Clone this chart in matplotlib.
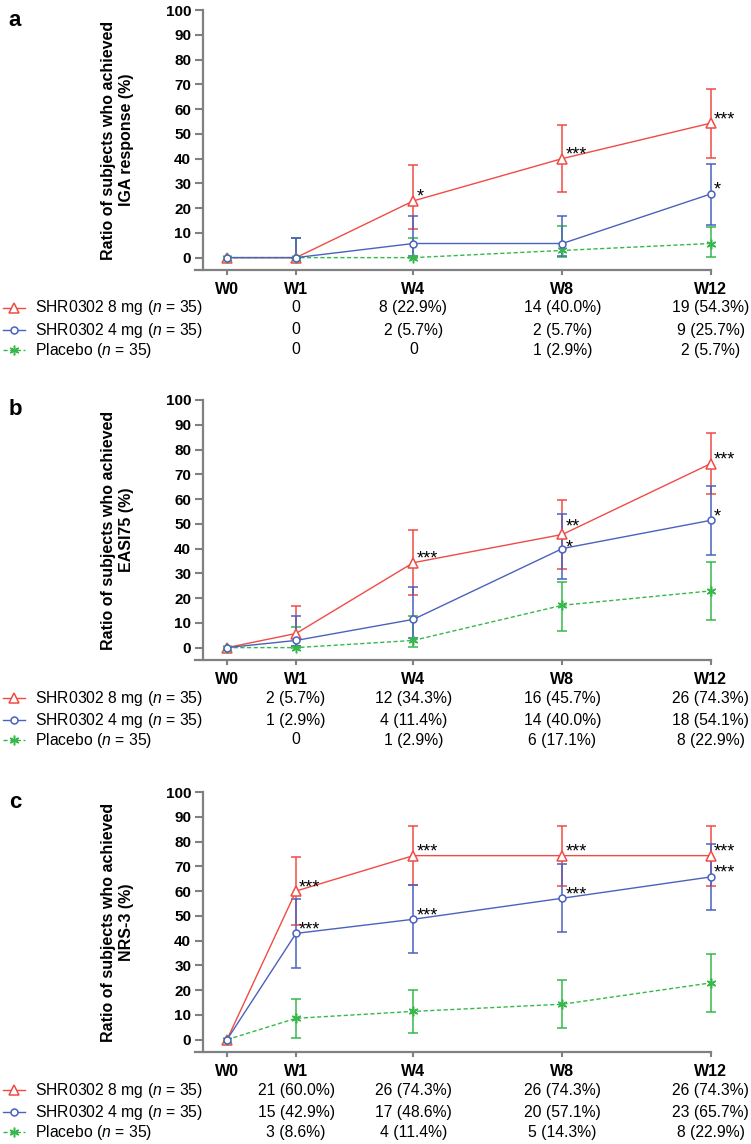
import numpy as np
import matplotlib
matplotlib.use('Agg')
import matplotlib.pyplot as plt
from matplotlib.lines import Line2D
import matplotlib.transforms as mtransforms

plt.rcParams['font.family'] = ['Liberation Sans', 'DejaVu Sans']
plt.rcParams['mathtext.fontset'] = 'custom'
plt.rcParams['mathtext.rm'] = 'Liberation Sans'
plt.rcParams['mathtext.it'] = 'Liberation Sans:italic'

nan = np.nan
weeks = ['W0', 'W1', 'W4', 'W8', 'W12']
group_labels = ['SHR0302 8 mg ($\\mathit{n}$ = 35)',
                'SHR0302 4 mg ($\\mathit{n}$ = 35)',
                'Placebo ($\\mathit{n}$ = 35)']

# panel a - IGA response
iga_8mg = [0, 0, 22.9, 40.0, 54.3]
iga_8mg_lo = [nan, 0, 11.7, 26.3, 40.3]
iga_8mg_hi = [nan, 8.1, 37.4, 53.4, 68.0]
iga_4mg = [0, 0, 5.7, 5.7, 25.7]
iga_4mg_lo = [nan, 0, 0.7, 0.7, 13.3]
iga_4mg_hi = [nan, 8.1, 16.7, 16.7, 37.8]
iga_pbo = [0, 0, 0, 2.9, 5.7]
iga_pbo_lo = [nan, 0, 0, 0.1, 0.1]
iga_pbo_hi = [nan, 8.1, 8.1, 12.6, 12.2]
iga_table = [['0', '8 (22.9%)', '14 (40.0%)', '19 (54.3%)'],
             ['0', '2 (5.7%)', '2 (5.7%)', '9 (25.7%)'],
             ['0', '0', '1 (2.9%)', '2 (5.7%)']]
iga_stars = [(2, 0, '*'), (3, 0, '***'), (4, 0, '***'), (4, 1, '*')]

# panel b - EASI75
eas_8mg = [0, 5.7, 34.3, 45.7, 74.3]
eas_8mg_lo = [nan, 0.8, 21.2, 31.9, 62.1]
eas_8mg_hi = [nan, 17.0, 47.4, 59.7, 86.7]
eas_4mg = [0, 2.9, 11.4, 40.0, 51.4]
eas_4mg_lo = [nan, 0.5, 3.8, 27.6, 37.6]
eas_4mg_hi = [nan, 12.9, 24.4, 53.8, 65.4]
eas_pbo = [0, 0, 2.9, 17.1, 22.9]
eas_pbo_lo = [nan, 0, 0.4, 6.9, 11.3]
eas_pbo_hi = [nan, 8.2, 12.8, 26.5, 34.5]
eas_table = [['2 (5.7%)', '12 (34.3%)', '16 (45.7%)', '26 (74.3%)'],
             ['1 (2.9%)', '4 (11.4%)', '14 (40.0%)', '18 (54.1%)'],
             ['0', '1 (2.9%)', '6 (17.1%)', '8 (22.9%)']]
eas_stars = [(2, 0, '***'), (3, 0, '**'), (3, 1, '*'), (4, 0, '***'), (4, 1, '*')]

# panel c - NRS-3
nrs_8mg = [0, 60.0, 74.3, 74.3, 74.3]
nrs_8mg_lo = [nan, 46.4, 62.3, 62.2, 62.2]
nrs_8mg_hi = [nan, 73.6, 86.4, 86.4, 86.4]
nrs_4mg = [0, 42.9, 48.6, 57.1, 65.7]
nrs_4mg_lo = [nan, 29.1, 34.8, 43.3, 52.5]
nrs_4mg_hi = [nan, 56.7, 62.3, 70.9, 78.8]
nrs_pbo = [0, 8.6, 11.4, 14.3, 22.9]
nrs_pbo_lo = [nan, 0.8, 2.6, 4.6, 11.2]
nrs_pbo_hi = [nan, 16.3, 20.2, 24.0, 34.5]
nrs_table = [['21 (60.0%)', '26 (74.3%)', '26 (74.3%)', '26 (74.3%)'],
             ['15 (42.9%)', '17 (48.6%)', '20 (57.1%)', '23 (65.7%)'],
             ['3 (8.6%)', '4 (11.4%)', '5 (14.3%)', '8 (22.9%)']]
nrs_stars = [(1, 0, '***'), (1, 1, '***'), (2, 0, '***'), (2, 1, '***'),
             (3, 0, '***'), (3, 1, '***'), (4, 0, '***'), (4, 1, '***')]

panels = [
    ('a', 'Ratio of subjects who achieved\nIGA response (%)',
     [(iga_8mg, iga_8mg_lo, iga_8mg_hi), (iga_4mg, iga_4mg_lo, iga_4mg_hi),
      (iga_pbo, iga_pbo_lo, iga_pbo_hi)], iga_table, iga_stars),
    ('b', 'Ratio of subjects who achieved\nEASI75 (%)',
     [(eas_8mg, eas_8mg_lo, eas_8mg_hi), (eas_4mg, eas_4mg_lo, eas_4mg_hi),
      (eas_pbo, eas_pbo_lo, eas_pbo_hi)], eas_table, eas_stars),
    ('c', 'Ratio of subjects who achieved\nNRS-3 (%)',
     [(nrs_8mg, nrs_8mg_lo, nrs_8mg_hi), (nrs_4mg, nrs_4mg_lo, nrs_4mg_hi),
      (nrs_pbo, nrs_pbo_lo, nrs_pbo_hi)], nrs_table, nrs_stars),
]

# layout (not data)
x_pos = np.array([0, 1, 2.7, 4.86, 7.01])
colors = ['#F04B45', '#4A62BE', '#36B84A']
markers = ['^', 'o', (6, 2, 0)]
msizes = [6.5, 5, 7]
lstyles = ['-', '-', (0, (3, 1.8))]
draw_order = [0, 2, 1]
gray = '#808080'
W, H = 751, 1144
offsets = [0, 390, 782]
# small nudges (pixels) so the two stars at EASI75 W8 do not collide
star_nudge = {('b', 3, 0): 4, ('b', 3, 1): -3}

fig = plt.figure(figsize=(W / 100, H / 100), dpi=100)


def fx(px):
    return px / W


def fy(py):
    return 1 - py / H


for (letter, ylabel, series, table, stars), off in zip(panels, offsets):
    ax = fig.add_axes([fx(195), fy(270 + off), fx(745) - fx(195), (260) / H])
    ax.set_xlim(-0.464, -0.464 + 550 / 69)
    ax.set_ylim(-5, 100)
    for g in draw_order:
        v, lo, hi = (np.array(a, dtype=float) for a in series[g])
        yerr = np.vstack([v - lo, hi - v])
        ax.errorbar(x_pos, v, yerr=yerr, color=colors[g], lw=1.0,
                    ls=lstyles[g], marker=markers[g], ms=msizes[g],
                    mfc='white' if g < 2 else colors[g], mec=colors[g],
                    mew=1.1, capsize=3.8, capthick=1.1, elinewidth=1.1,
                    clip_on=False, zorder=3)
    for wi, g, s in stars:
        dy = star_nudge.get((letter, wi, g), 0)
        ax.annotate(s, (x_pos[wi], series[g][0][wi]), xytext=(3, -1 + dy),
                    textcoords='offset pixels', ha='left', va='baseline',
                    fontsize=13, zorder=5)

    for side in ['top', 'right']:
        ax.spines[side].set_visible(False)
    ax.spines['left'].set_position(('data', -0.348))
    ax.spines['left'].set_bounds(-5, 100)
    ax.spines['bottom'].set_bounds(-0.464, x_pos[-1])
    for side in ['left', 'bottom']:
        ax.spines[side].set_color(gray)
        ax.spines[side].set_linewidth(1.6)
    ax.set_yticks(range(0, 101, 10))
    ax.set_xticks(x_pos)
    ax.set_xticklabels(weeks)
    ax.tick_params(axis='y', length=5.5, width=1.5, color=gray, pad=3,
                   labelsize=11)
    ax.tick_params(axis='x', length=3.5, width=1.5, color=gray, pad=5,
                   labelsize=11.5)
    for lab in ax.get_xticklabels() + ax.get_yticklabels():
        lab.set_fontweight('bold')
    ax.patch.set_visible(False)

    fig.text(fx(117), fy(140 + off), ylabel, rotation=90, ha='center',
             va='center', ma='center', fontsize=11.5, fontweight='bold',
             linespacing=1.25)
    fig.text(fx(15), fy(20 + off), letter, ha='center', va='center',
             fontsize=16, fontweight='bold')

    # table below the axis
    trans = mtransforms.blended_transform_factory(ax.transData, fig.transFigure)
    row_y = [308, 330, 350]
    for r in range(3):
        ry = fy(row_y[r] + off)
        fig.add_artist(Line2D([fx(3), fx(25)], [ry, ry], color=colors[r],
                              lw=1.0, ls=lstyles[r]))
        fig.add_artist(Line2D([fx(14)], [ry], color=colors[r], ls='none',
                              marker=markers[r], ms=msizes[r],
                              mfc='white' if r < 2 else colors[r],
                              mec=colors[r], mew=1.1))
        fig.text(fx(35), ry, group_labels[r], ha='left', va='center',
                 fontsize=11.3)
        for c in range(4):
            ax.text(x_pos[c + 1], ry, table[r][c], transform=trans,
                    ha='center', va='center', fontsize=11.3)

fig.savefig('out.png', dpi=100)
